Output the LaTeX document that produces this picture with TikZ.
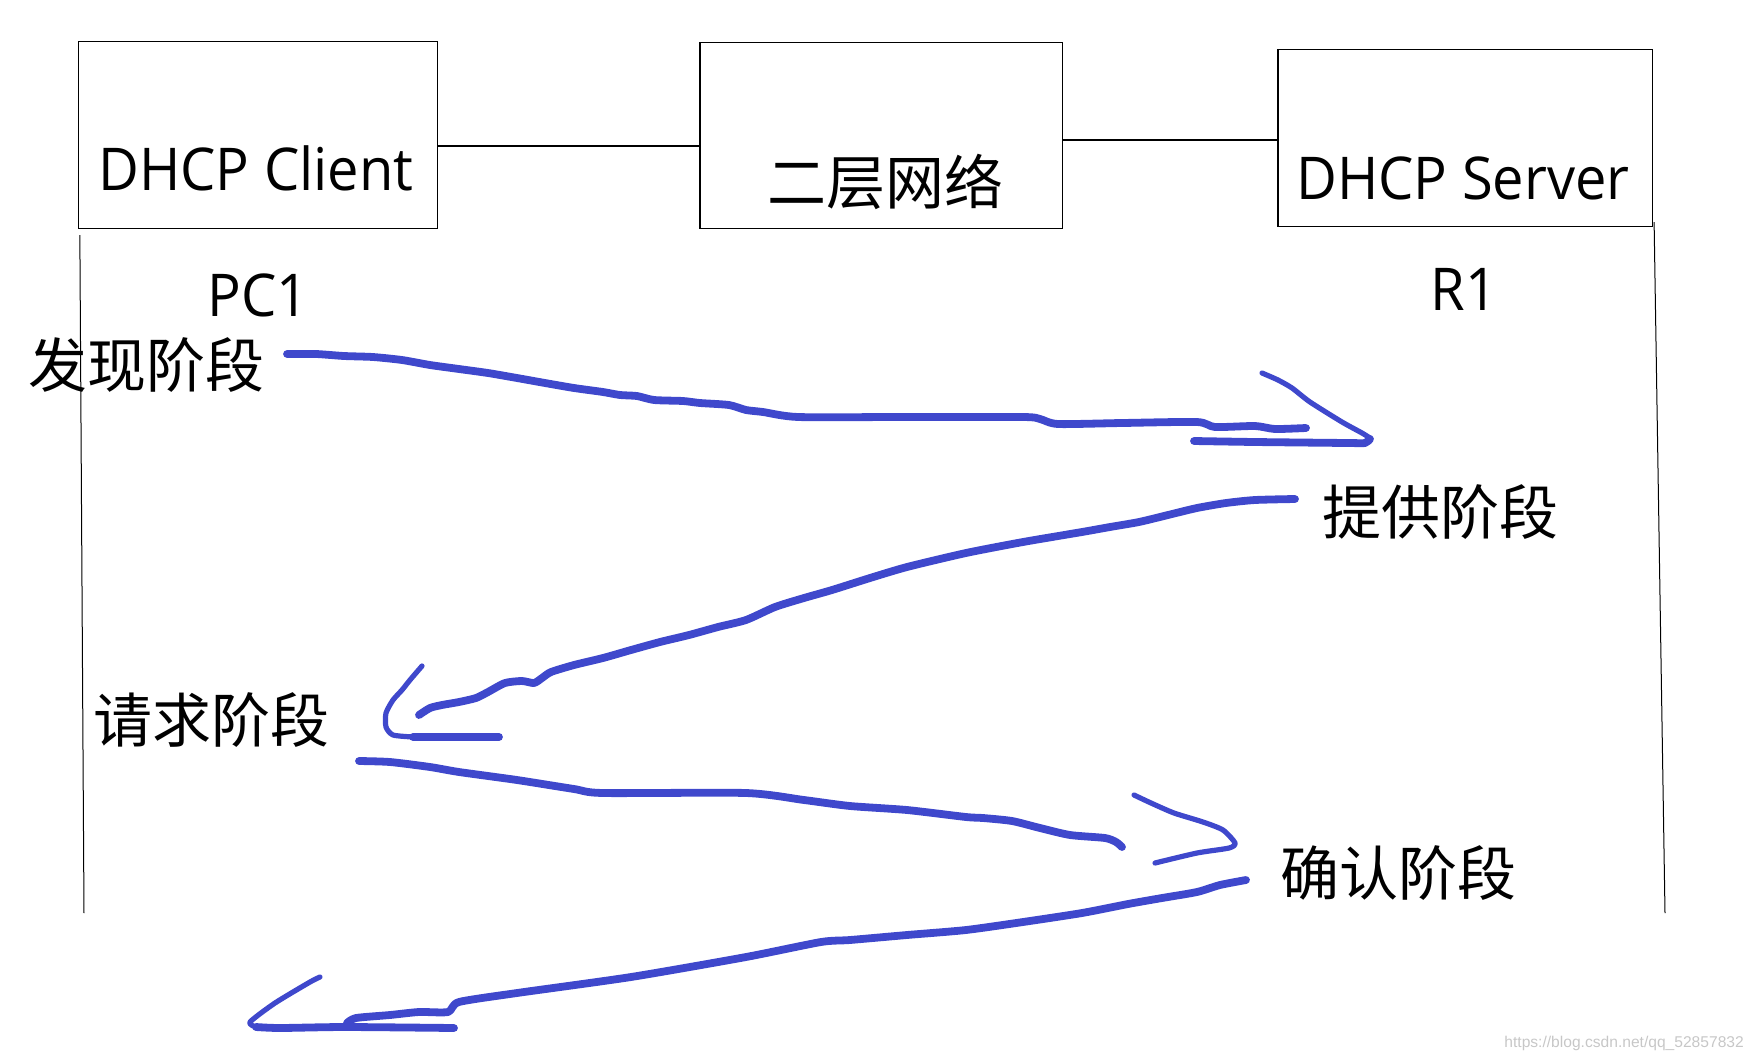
\documentclass[tikz,border=0pt]{standalone}
\usepackage{fontspec}
\setmainfont{Open Sans}[FakeStretch=0.95]
\newfontfamily\cjk{Noto Sans CJK SC}
\newfontfamily\wmfont{Liberation Sans}
\definecolor{penblue}{RGB}{63,72,204}

\begin{document}
\begin{tikzpicture}[x=0.5pt,y=-0.5pt,
  box/.style={draw,line width=0.75pt,inner sep=0pt},
  lbl/.style={font=\fontsize{29.5}{35}\selectfont,inner sep=0pt},
  stage/.style={font=\cjk\fontsize{29.5}{35}\selectfont,inner sep=0pt},
  wire/.style={line width=0.7pt},
  lifeline/.style={line width=0.5pt},
  penline/.style={draw=penblue,line width=3.9pt,line cap=round,line join=round},
  penhead/.style={penline,line width=2.6pt}]
\useasboundingbox (0,0) rectangle (1757,1061);
\node[box,minimum width=179.4pt,minimum height=93.5pt] (client) at (258,134.8) {};
\node[box,minimum width=181.3pt,minimum height=93pt] (l2net) at (881.3,135.3) {};
\node[box,minimum width=187.15pt,minimum height=88.5pt] (server) at (1465.2,137.8) {};
\node[lbl,anchor=base] (clienttxt) at (256,190) {DHCP Client};
\node[stage] (l2txt) at (885,181.5) {二层网络};
\node[lbl,anchor=base] (servertxt) at (1463,199) {DHCP Server};
\node[lbl,anchor=base] (pc1) at (258,316) {PC1};
\node[lbl,anchor=base] (r1) at (1464,310) {R1};
\node[stage] (discover) at (146.5,365.5) {发现阶段};
\node[stage] (offer) at (1440,512.5) {提供阶段};
\node[stage] (request) at (211,720.5) {请求阶段};
\node[stage] (ack) at (1398.6,873) {确认阶段};
\node[font=\wmfont\fontsize{7.8}{9}\selectfont,text=black!22,anchor=base west,inner sep=0pt] (mark) at (1504,1047) {https://blog.csdn.net/qq\_52857832};
\draw[wire] (client.east |- 0,146) -- (l2net.west |- 0,146);
\draw[wire] (l2net.east |- 0,140) -- (server.west |- 0,140);
\coordinate (pcend) at (84,913);
\coordinate (r1end) at (1665,913);
\draw[lifeline] ([shift={(2,6)}]client.south west) -- (pcend);
\draw[lifeline] ([shift={(1,-5)}]server.south east) -- (r1end);
\draw[penline] plot[smooth,tension=0.4] coordinates {(287,354) (316,354) (344,356) (373,357) (402,360) (430,365) (459,369) (488,373) (517,378) (545,383) (574,388) (603,392) (620,395) (637,396) (654,400) (683,401) (700,403) (729,405) (746,410) (763,412) (798,417) (900,417) (1023,417) (1040,419) (1058,424) (1122,423) (1197,422) (1215,427) (1255,426) (1275,429) (1306,428)};
\draw[penhead] plot[smooth,tension=0.4] coordinates {(1262,373) (1278,380) (1292,388) (1310,402) (1342,422) (1362,433) (1370,438)};
\draw[penline] plot[smooth,tension=0.4] coordinates {(1370,439) (1365,443) (1348,443) (1255,442) (1194,441)};
\draw[penline] plot[smooth,tension=0.4] coordinates {(1295,499) (1255,500) (1226,503) (1197,508) (1168,515) (1139,522) (1110,527) (1082,532) (1023,542) (966,553) (907,567) (870,578) (832,590) (804,598) (775,607) (746,620) (718,627) (689,635) (660,642) (631,650) (603,658) (574,665) (551,672) (542,678) (534,683) (522,681) (505,683) (488,692) (476,698) (459,702) (442,705) (430,708) (419,715)};
\draw[penhead] plot[smooth,tension=0.4] coordinates {(422,666) (410,680) (402,690) (393,700) (386,713) (386,727) (393,735) (413,737)};
\draw[penline] plot[smooth,tension=0.4] coordinates {(413,737) (459,737) (499,737)};
\draw[penline] plot[smooth,tension=0.4] coordinates {(359,761) (390,762) (430,767) (459,772) (517,780) (574,789) (603,793) (746,793) (804,800) (850,806) (907,810) (966,817) (983,818) (1012,821) (1040,828) (1070,835) (1105,838) (1116,842) (1122,847)};
\draw[penhead] plot[smooth,tension=0.4] coordinates {(1134,795) (1151,803) (1174,813) (1203,822) (1223,830) (1235,843) (1229,848) (1197,853) (1155,863)};
\draw[penline] plot[smooth,tension=0.4] coordinates {(1246,880) (1220,885) (1197,892) (1162,898) (1128,904) (1082,913) (1023,922) (966,930) (907,935) (850,940) (821,942) (746,957) (631,977) (517,993) (459,1002) (448,1012) (419,1012) (390,1015) (356,1018) (347,1023)};
\draw[penhead] plot[smooth,tension=0.4] coordinates {(320,977) (310,982) (275,1003) (250,1022) (256,1027)};
\draw[penline] plot[smooth,tension=0.4] coordinates {(256,1027) (280,1028) (345,1027) (454,1028)};
\end{tikzpicture}
\end{document}
